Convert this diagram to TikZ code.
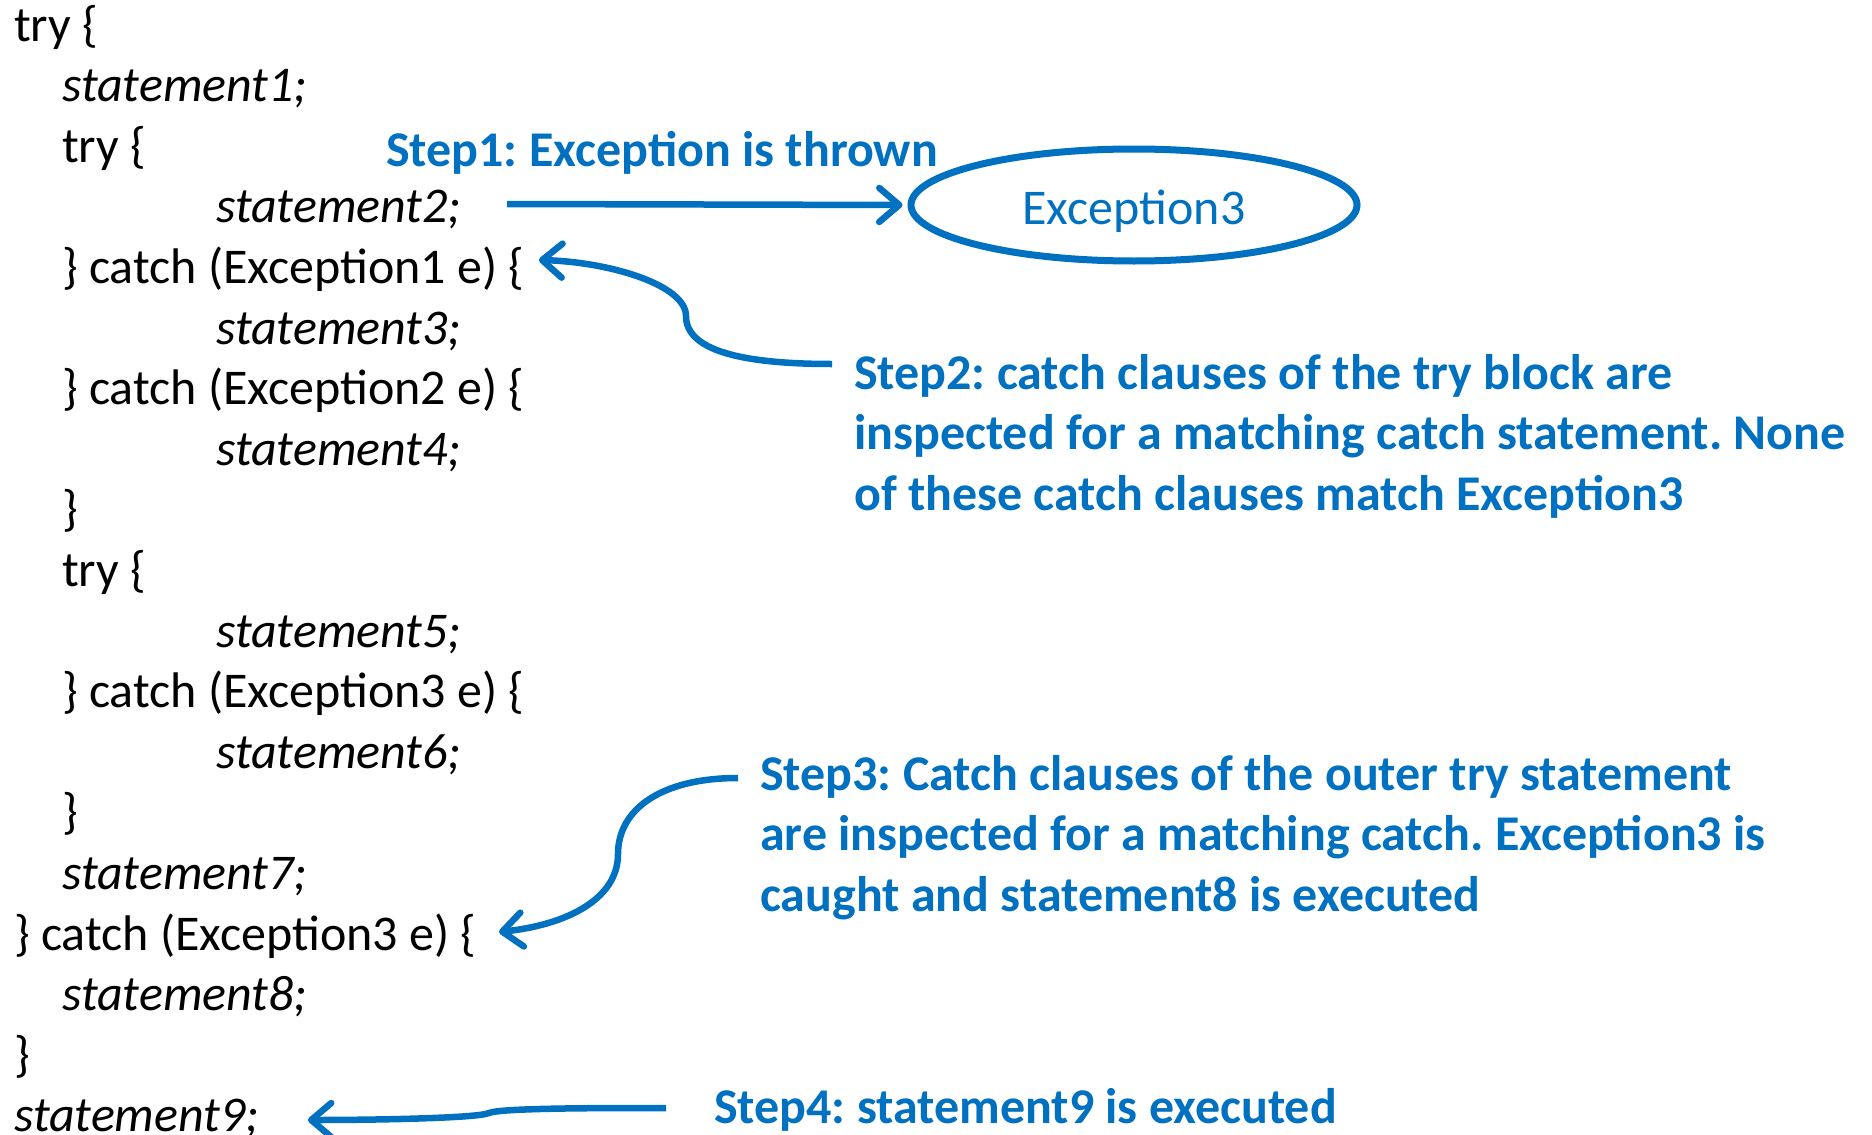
\documentclass[tikz,border=0pt]{standalone}
\usepackage{fontspec}
\setmainfont{Carlito}
\frenchspacing
\usetikzlibrary{arrows.meta,shapes.geometric}
\definecolor{stepblue}{HTML}{0070C0}
\tikzset{
  code/.style={anchor=base west,inner sep=0pt,font=\fontsize{50}{60.6}\selectfont},
  codeit/.style={code,font=\fontsize{50}{60.6}\selectfont\itshape},
  steptext/.style={anchor=base west,inner sep=0pt,align=left,text=stepblue,
    font=\fontsize{50}{60.5}\selectfont\bfseries},
  flow/.style={draw=stepblue,line width=6.5pt,
    -{Straight Barb[length=20pt,width=34pt,line width=6.5pt,round]}},
}
\begin{document}
\begin{tikzpicture}[x=1pt,y=-1pt]
\useasboundingbox (0,0) rectangle (1872,1135);
% nested try/catch listing
\node[code]   (l1)  at (14,41)    {try \{};
\node[codeit] (l2)  at (62,101.6) {statement1;};
\node[code]   (l3)  at (62,162.2) {try \{};
\node[codeit] (l4)  at (216,222.8){statement2;};
\node[code]   (l5)  at (62,283.4) {\} catch (Exception1 e) \{};
\node[codeit] (l6)  at (216,344)  {statement3;};
\node[code]   (l7)  at (62,404.6) {\} catch (Exception2 e) \{};
\node[codeit] (l8)  at (216,465.2){statement4;};
\node[code]   (l9)  at (62,525.8) {\}};
\node[code]   (l10) at (62,586.4) {try \{};
\node[codeit] (l11) at (216,647)  {statement5;};
\node[code]   (l12) at (62,707.6) {\} catch (Exception3 e) \{};
\node[codeit] (l13) at (216,768.2){statement6;};
\node[code]   (l14) at (62,828.8) {\}};
\node[codeit] (l15) at (62,889.4) {statement7;};
\node[code]   (l16) at (14,950)   {\} catch (Exception3 e) \{};
\node[codeit] (l17) at (62,1010.6){statement8;};
\node[code]   (l18) at (14,1071.2){\}};
\node[codeit] (l19) at (14,1131.8){statement9;};

% thrown exception
\node[ellipse,draw=stepblue,line width=7pt,minimum width=446pt,minimum height=112pt,
  inner sep=0pt] (exc) at (1134,205) {};
\node[inner sep=0pt,text=stepblue,font=\fontsize{50}{60}\selectfont]
  (exclabel) at ([yshift=-6pt]exc.center) {Exception3};

% step labels (anchored at the baseline of their last line)
\node[steptext] (s1) at (386,166) {Step1: Exception is thrown};
\node[steptext] (s2) at (854,510) {Step2: catch clauses of the try block are\\
  inspected for a matching catch statement. None\\ of these catch clauses match Exception3};
\node[steptext] (s3) at (760,911) {Step3: Catch clauses of the outer try statement\\
  are inspected for a matching catch. Exception3 is\\ caught and statement8 is executed};
\node[steptext] (s4) at (714,1123) {Step4: statement9 is executed};

% arrows
\coordinate (a1) at (507,204);
\draw[flow] (a1) -- ([xshift=-5pt]exc.west);
\coordinate (a2) at (832,364);
\draw[flow] (a2) .. controls (740,364) and (686,350) .. (686,316)
  .. controls (686,285) and (610,262) .. ([xshift=14pt]l5.east |- 0,260);
\coordinate (a3) at (738,778);
\draw[flow] (a3) .. controls (660,778) and (618,810) .. (618,854)
  .. controls (618,900) and (565,925) .. (499,932);
\coordinate (a4) at (666,1108);
\draw[flow] (a4) .. controls (600,1108) and (500,1108) .. (489,1113)
  .. controls (478,1118) and (380,1120) .. (308,1120);
\end{tikzpicture}
\end{document}
